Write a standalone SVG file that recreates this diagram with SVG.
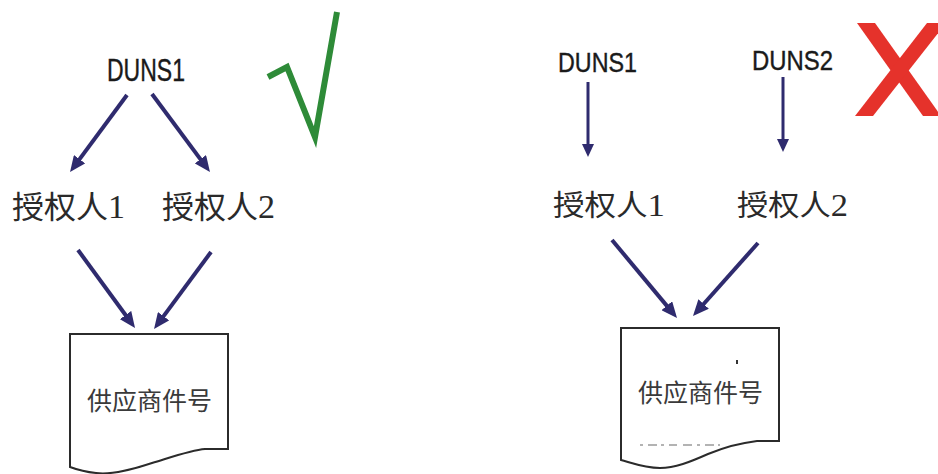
<svg xmlns="http://www.w3.org/2000/svg" width="938" height="474" viewBox="0 0 938 474">
  <style>
    .duns { font-family: "Liberation Sans", Arial, sans-serif; fill: #1a1a1a; stroke: #1a1a1a; stroke-width: 0.4; }
    .cn { font-family: "Liberation Serif", "Noto Sans CJK SC", serif; fill: #2a2a2a; }
    .dig { font-family: "Liberation Serif", serif; }
    .doc-text { font-family: "Noto Sans CJK SC", sans-serif; font-size: 25px; fill: #3a3a3a; }
    .doc { fill: #ffffff; stroke: #2b2b2b; stroke-width: 2; stroke-linejoin: miter; }
    .arr { stroke: #2f2b6e; stroke-width: 4; fill: none; marker-end: url(#ah); }
    .arr-thin { stroke: #2f2b6e; stroke-width: 3; fill: none; marker-end: url(#ahs); }
  </style>
  <defs>
    <marker id="ah" markerUnits="userSpaceOnUse" markerWidth="16" markerHeight="14" viewBox="0 0 16 14" refX="8" refY="7" orient="auto">
      <path d="M0,0 L16,7 L0,14 Z" fill="#2f2b6e"/>
    </marker>
    <marker id="ahs" markerUnits="userSpaceOnUse" markerWidth="13" markerHeight="12" viewBox="0 0 13 12" refX="6" refY="6" orient="auto">
      <path d="M0,0 L13,6 L0,12 Z" fill="#2f2b6e"/>
    </marker>
  </defs>
  <rect width="938" height="474" fill="#ffffff"/>

  <!-- Left scenario -->
  <g id="left-duns1">
    <text class="duns" x="107" y="81" font-size="31" textLength="78" lengthAdjust="spacingAndGlyphs">DUNS1</text>
  </g>
  <g id="left-auth1">
    <text class="cn" x="12" y="218" font-size="31" textLength="113" lengthAdjust="spacingAndGlyphs">授权人<tspan class="dig" font-size="33">1</tspan></text>
  </g>
  <g id="left-auth2">
    <text class="cn" x="162" y="218" font-size="31" textLength="113" lengthAdjust="spacingAndGlyphs">授权人<tspan class="dig" font-size="33">2</tspan></text>
  </g>
  <g id="left-doc">
    <path class="doc" d="M70,334 H228 V449 H205 C192,450 178,455 152,463 C128,471 110,475 96,473 C86,472 78,470 70,467 Z"/>
    <text class="doc-text" x="87" y="410" textLength="125" lengthAdjust="spacingAndGlyphs">供应商件号</text>
  </g>
  <g id="check">
    <polyline points="268,77 287,67 315,137 337,12" fill="none" stroke="#2e8b38" stroke-width="6" stroke-linejoin="miter" stroke-miterlimit="10"/>
  </g>

  <!-- Right scenario -->
  <g id="right-duns1">
    <text class="duns" x="558" y="72" font-size="28" textLength="79" lengthAdjust="spacingAndGlyphs">DUNS1</text>
  </g>
  <g id="right-duns2">
    <text class="duns" x="752" y="70" font-size="28" textLength="81" lengthAdjust="spacingAndGlyphs">DUNS2</text>
  </g>
  <g id="right-auth1">
    <text class="cn" x="553" y="216" font-size="29" textLength="112" lengthAdjust="spacingAndGlyphs">授权人<tspan class="dig" font-size="32">1</tspan></text>
  </g>
  <g id="right-auth2">
    <text class="cn" x="737" y="216" font-size="29" textLength="111" lengthAdjust="spacingAndGlyphs">授权人<tspan class="dig" font-size="32">2</tspan></text>
  </g>
  <g id="right-doc">
    <path class="doc" d="M621,328 H779 V441 H757 C740,443 725,447 708,454 C690,462 675,468 660,468 C645,468 632,463 621,460 Z"/>
    <text class="doc-text" x="638" y="402" textLength="125" lengthAdjust="spacingAndGlyphs">供应商件号</text>
    <rect x="736" y="360" width="2" height="4" fill="#333333"/>
    <line x1="640" y1="445" x2="720" y2="445" stroke="#9a9a9a" stroke-width="1.5" stroke-dasharray="3,5,9,4,3,5,8,6,9,5"/>
  </g>
  <g id="cross">
    <polygon points="857,23 875,23 941,116 923,116" fill="#e5322b"/>
    <polygon points="927,23 946,23 873,116 855,116" fill="#e5322b"/>
  </g>

  <!-- Connectors -->
  <g id="connectors">
    <line class="arr" x1="127" y1="95" x2="74.8" y2="165.6"/>
    <line class="arr" x1="152" y1="94" x2="205.2" y2="165.6"/>
    <line class="arr" x1="78" y1="250" x2="130.3" y2="321.5"/>
    <line class="arr" x1="211" y1="252" x2="158.8" y2="322.6"/>
    <line class="arr-thin" x1="588" y1="82" x2="588" y2="150"/>
    <line class="arr-thin" x1="783" y1="77" x2="783" y2="145"/>
    <line class="arr" x1="612" y1="240" x2="671.9" y2="311.9"/>
    <line class="arr" x1="758" y1="243" x2="698.3" y2="310"/>
  </g>
</svg>
